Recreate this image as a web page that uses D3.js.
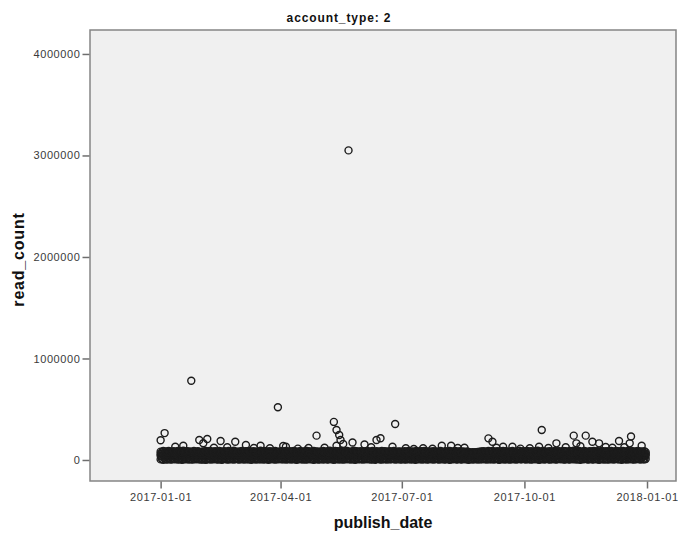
<!DOCTYPE html>
<html>
<head>
<meta charset="utf-8">
<script src="https://cdn.jsdelivr.net/npm/d3@7"></script>
<style>
  html, body { margin: 0; padding: 0; background: #ffffff; }
  svg { display: block; font-family: "Liberation Sans", Arial, sans-serif; }
</style>
</head>
<body>
<svg id="chart" width="678" height="537"></svg>
<script>
// ---------------- DATA ----------------
const chartTitle = "account_type: 2";
const xTitle = "publish_date";
const yTitle = "read_count";

const xTickLabels = ["2017-01-01", "2017-04-01", "2017-07-01", "2017-10-01", "2018-01-01"];
const yTickValues = [0, 1000000, 2000000, 3000000, 4000000];

// dense band: one reading per day of 2017 (thousands of reads), four layers
const bandStart = "2017-01-01";
const bandLow = [
  6,9,3,11,8,5,12,7,4,10, 9,6,13,5,8,11,3,7,10,6, 12,4,9,7,5,11,8,13,6,9, 4,
  8,5,10,3,12,7,9,4,11,6, 13,8,5,10,7,3,9,12,6,8, 4,11,7,10,5,9,13,6,
  5,11,7,9,4,12,8,6,10,3, 13,7,9,5,11,6,8,12,4,10, 7,9,3,11,6,13,8,5,10,7, 9,
  10,6,8,12,4,9,7,11,5,13, 6,10,3,8,12,7,9,5,11,4, 8,13,6,10,7,3,9,12,5,8,
  7,12,5,9,11,4,8,13,6,10, 3,9,7,12,5,11,8,4,10,6, 13,7,9,5,12,8,3,11,6,10, 7,
  9,4,11,7,13,6,10,5,8,12, 3,9,11,6,8,4,12,7,10,5, 13,8,6,11,9,4,10,7,12,5,
  6,10,8,4,12,7,11,5,9,13, 3,8,10,6,12,4,9,7,11,5, 8,13,6,10,4,9,12,7,5,11, 8,
  11,5,8,12,7,3,10,6,9,13, 4,8,11,7,5,12,9,6,10,3, 8,12,5,9,7,11,4,10,6,8, 12,
  7,10,4,12,8,6,11,5,9,13, 7,3,10,8,12,5,9,6,11,4, 8,13,7,10,5,9,12,6,8,11,
  9,5,12,7,10,4,8,11,6,13, 8,3,10,7,12,5,9,11,6,4, 10,8,13,7,5,9,12,6,11,8, 4,
  6,11,8,4,13,9,7,12,5,10, 8,3,11,6,9,13,7,4,10,12, 5,8,11,6,9,3,12,7,10,5,
  10,7,4,12,8,11,5,9,13,6, 8,10,3,12,7,9,5,11,6,13, 8,4,10,7,12,9,5,11,6,8, 10
];
const bandMid = [
  41,37,45,39,48,36,43,40,46,38, 44,35,47,42,39,45,37,41,49,36, 43,40,38,46,42,35,44,39,47,41, 38,
  39,44,36,47,41,38,45,42,35,48, 40,43,37,46,39,44,41,36,49,42, 38,45,40,47,36,43,39,46,
  42,36,47,40,44,38,45,35,48,41, 37,43,39,46,42,36,44,49,38,41, 45,37,43,40,47,35,42,46,39,44, 38,
  45,39,43,37,48,41,36,44,40,47, 38,42,46,35,43,49,39,41,37,45, 44,36,40,48,42,38,46,35,43,41,
  40,46,38,43,36,47,42,39,45,37, 48,41,44,35,46,40,43,38,49,42, 36,45,39,47,41,37,44,40,46,38, 43,
  44,38,41,47,36,43,40,46,39,42, 48,37,45,35,42,47,39,44,41,36, 46,40,43,38,49,41,37,45,42,39,
  39,45,42,36,47,40,44,38,46,41, 35,43,48,37,42,45,39,44,36,47, 41,38,46,43,40,48,37,42,45,39, 44,
  43,37,45,40,48,36,42,46,39,44, 38,41,47,35,43,40,45,37,42,46, 39,36,44,41,38,43,37,45,40,42, 46,
  41,46,38,44,40,47,36,43,45,39, 42,48,37,44,41,35,46,40,43,38, 47,42,39,45,36,44,41,48,37,43,
  45,39,42,48,37,44,40,46,38,43, 36,47,41,45,39,42,49,37,44,40, 46,38,43,35,47,41,44,39,46,42, 38,
  40,44,37,47,42,39,45,36,48,41, 43,38,46,40,44,35,47,42,39,45, 37,43,49,40,46,38,42,44,36,47,
  43,38,46,41,36,45,40,48,37,44, 42,39,47,35,43,46,40,38,45,41, 49,37,44,42,39,46,36,43,40,45, 41
];
const bandUpper = [
  60,65,57,63,68,59,62,55,66,61, 58,64,56,67,60,63,57,65,59,62, 68,55,61,64,58,66,60,57,63,59, 65,
  62,57,66,59,64,56,68,61,58,65, 60,63,55,67,59,62,66,57,64,61, 56,68,60,63,58,65,59,62,
  58,64,60,67,55,62,65,59,63,57, 66,61,56,68,60,64,58,62,57,65, 59,63,67,56,61,66,58,64,60,55, 62,
  63,59,66,56,61,68,58,64,60,65, 57,62,67,55,63,59,66,61,58,64, 56,60,65,62,57,68,59,63,61,66,
  61,56,64,59,67,62,57,65,60,63, 55,66,58,62,68,59,64,57,61,65, 60,56,63,67,58,62,66,59,64,57, 61,
  65,58,62,57,64,60,67,56,63,59, 66,61,55,64,58,68,60,62,57,65, 59,63,66,56,61,64,58,67,60,62,
  57,63,59,66,61,55,64,60,68,58, 62,65,57,61,67,59,63,56,64,60, 66,58,62,55,65,61,57,63,68,59, 64,
  64,60,67,58,62,56,65,59,63,61, 57,66,60,64,55,62,68,58,61,65, 59,57,63,60,58,62,56,61,64,59, 66,
  59,66,61,57,64,62,55,68,60,63, 58,65,61,56,67,59,63,60,66,57, 62,64,58,65,61,56,68,60,63,59,
  62,58,65,60,56,67,61,64,57,63, 59,66,55,62,68,58,64,60,57,65, 61,63,56,66,59,62,58,67,60,64, 57,
  58,64,61,66,57,63,59,68,60,62, 55,65,58,64,61,67,56,62,60,66, 59,63,57,65,61,58,68,60,64,62,
  63,57,66,60,62,58,65,59,67,61, 56,64,60,63,57,68,59,62,65,58, 61,66,57,63,60,64,55,62,67,59, 60
];
const bandHigh = [
  82,76,88,71,85,79,90,74,83,77, 86,72,80,89,75,84,78,91,73,81, 87,70,84,79,76,88,82,74,86,80, 78,
  79,85,73,88,81,76,90,72,84,78, 87,74,82,89,77,83,71,86,80,75, 88,79,84,73,91,78,82,76,
  84,77,89,73,81,86,75,90,79,83, 72,87,80,76,85,78,91,74,82,88, 71,84,79,86,77,83,73,89,80,75, 85,
  78,86,74,83,89,80,72,87,76,84, 90,79,85,73,81,88,77,82,75,91, 80,86,74,83,78,89,72,85,81,77,
  83,75,88,80,73,86,79,91,76,84, 81,89,74,87,78,82,90,72,85,77, 88,80,76,84,79,91,73,86,82,75, 87,
  76,85,81,72,88,79,84,74,90,82, 77,86,73,83,80,89,75,87,78,84, 71,86,81,76,89,80,74,85,78,83,
  80,74,87,82,76,89,79,85,72,84, 78,90,75,83,81,86,73,88,77,82, 85,71,84,79,87,76,83,80,74,89, 78,
  82,77,86,73,81,88,76,84,79,90, 74,83,78,87,72,85,80,76,83,78, 74,70,76,72,77,73,79,75,84,80, 86,
  79,85,74,88,82,77,90,73,84,80, 87,75,83,78,89,72,86,81,76,84, 79,88,74,82,77,85,91,73,80,86,
  84,78,89,75,82,87,73,80,86,77, 91,79,83,74,88,81,76,85,72,87, 80,84,78,89,75,83,86,79,74,88, 82,
  86,80,75,89,83,77,91,79,84,73, 88,81,76,85,90,78,82,74,87,80, 84,89,77,83,86,79,75,88,82,85,
  81,87,76,84,89,78,83,73,90,80, 86,75,82,88,77,85,79,91,74,83, 87,78,84,80,89,76,85,82,79,86, 77
];

// individual articles above the band: [publish_date, read_count]
const outliers = [
  ["2017-01-01", 195000], ["2017-01-04", 265000], ["2017-01-12", 130000], ["2017-01-18", 140000],
  ["2017-01-24", 780000], ["2017-01-30", 197000], ["2017-02-02", 165000], ["2017-02-05", 207000],
  ["2017-02-10", 120000], ["2017-02-15", 187000], ["2017-02-20", 125000], ["2017-02-26", 180000],
  ["2017-03-06", 148000], ["2017-03-12", 118000], ["2017-03-17", 140000], ["2017-03-24", 115000],
  ["2017-03-30", 520000], ["2017-04-03", 138000], ["2017-04-05", 130000], ["2017-04-14", 112000],
  ["2017-04-22", 118000], ["2017-04-28", 240000], ["2017-05-04", 120000], ["2017-05-11", 375000],
  ["2017-05-13", 296000], ["2017-05-13", 140000], ["2017-05-15", 246000], ["2017-05-16", 197000],
  ["2017-05-18", 158000], ["2017-05-22", 3050000], ["2017-05-25", 173000], ["2017-06-03", 153000],
  ["2017-06-08", 125000], ["2017-06-12", 197000], ["2017-06-15", 214000], ["2017-06-24", 130000],
  ["2017-06-26", 355000], ["2017-07-04", 115000], ["2017-07-10", 108000], ["2017-07-17", 115000],
  ["2017-07-24", 110000], ["2017-07-31", 140000], ["2017-08-07", 140000], ["2017-08-12", 118000],
  ["2017-08-17", 120000], ["2017-09-04", 213000], ["2017-09-07", 180000], ["2017-09-10", 120000],
  ["2017-09-15", 130000], ["2017-09-22", 130000], ["2017-09-28", 112000], ["2017-10-05", 115000],
  ["2017-10-12", 130000], ["2017-10-14", 296000], ["2017-10-19", 118000], ["2017-10-25", 164000],
  ["2017-11-01", 125000], ["2017-11-07", 240000], ["2017-11-09", 164000], ["2017-11-12", 135000],
  ["2017-11-16", 240000], ["2017-11-21", 180000], ["2017-11-26", 164000], ["2017-12-01", 128000],
  ["2017-12-06", 120000], ["2017-12-11", 187000], ["2017-12-15", 125000], ["2017-12-19", 164000],
  ["2017-12-20", 232000], ["2017-12-28", 140000]
];

// axis extents
const xDomain = ["2016-11-09", "2018-01-22T18:00"];
const yDomain = [-207000, 4236000];

// ---------------- DRAW ----------------
const parse = s => new Date(s.length > 10 ? s + "Z" : s + "T00:00:00Z");
const svg = d3.select("#chart");
const plot = { left: 90, right: 676, top: 30, bottom: 481 };

const x = d3.scaleUtc().domain(xDomain.map(parse)).range([plot.left, plot.right]);
const y = d3.scaleLinear().domain(yDomain).range([plot.bottom, plot.top]);

svg.append("rect")
  .attr("x", plot.left).attr("y", plot.top)
  .attr("width", plot.right - plot.left).attr("height", plot.bottom - plot.top)
  .attr("fill", "#f0f0f0").attr("stroke", "#858585").attr("stroke-width", 1.5);

// build points
const start = parse(bandStart);
const points = [];
[bandLow, bandMid, bandUpper, bandHigh].forEach(layer => {
  layer.forEach((v, i) => {
    points.push({ date: d3.utcDay.offset(start, i), value: v * 1000 });
  });
});
outliers.forEach(([d, v]) => points.push({ date: parse(d), value: v }));

svg.append("g")
  .selectAll("circle")
  .data(points)
  .join("circle")
  .attr("cx", d => x(d.date))
  .attr("cy", d => y(d.value))
  .attr("r", 3.5)
  .attr("fill", "none")
  .attr("stroke", "#1c1c1c")
  .attr("stroke-width", 1.4);

// axes
const tickStyle = g => {
  g.select(".domain").remove();
  g.selectAll(".tick line").attr("stroke", "#6e6e6e").attr("stroke-width", 1.5);
  g.selectAll(".tick text")
    .attr("fill", "#3a3a3a")
    .style("font-size", "11px")
    .style("letter-spacing", "0.6px");
};

svg.append("g")
  .attr("transform", `translate(${plot.left - 0.5},0)`)
  .call(d3.axisLeft(y).tickValues(yTickValues).tickFormat(d3.format("d")).tickSize(7).tickPadding(2))
  .call(tickStyle);

svg.append("g")
  .attr("transform", `translate(0,${plot.bottom + 0.5})`)
  .call(d3.axisBottom(x).tickValues(xTickLabels.map(parse)).tickFormat(d3.utcFormat("%Y-%m-%d")).tickSize(7).tickPadding(5))
  .call(tickStyle);

// titles
svg.append("text")
  .attr("x", 339).attr("y", 21.5)
  .attr("text-anchor", "middle")
  .style("font-size", "12px").style("font-weight", "bold").style("letter-spacing", "0.9px")
  .attr("fill", "#111")
  .text(chartTitle);

svg.append("text")
  .attr("x", (plot.left + plot.right) / 2).attr("y", 528)
  .attr("text-anchor", "middle")
  .style("font-size", "16px").style("font-weight", "bold")
  .attr("fill", "#111")
  .text(xTitle);

svg.append("text")
  .attr("transform", `translate(23.5,${(plot.top + plot.bottom) / 2 + 4}) rotate(-90)`)
  .attr("text-anchor", "middle")
  .style("font-size", "16px").style("font-weight", "bold").style("letter-spacing", "0.8px")
  .attr("fill", "#111")
  .text(yTitle);
</script>
</body>
</html>
